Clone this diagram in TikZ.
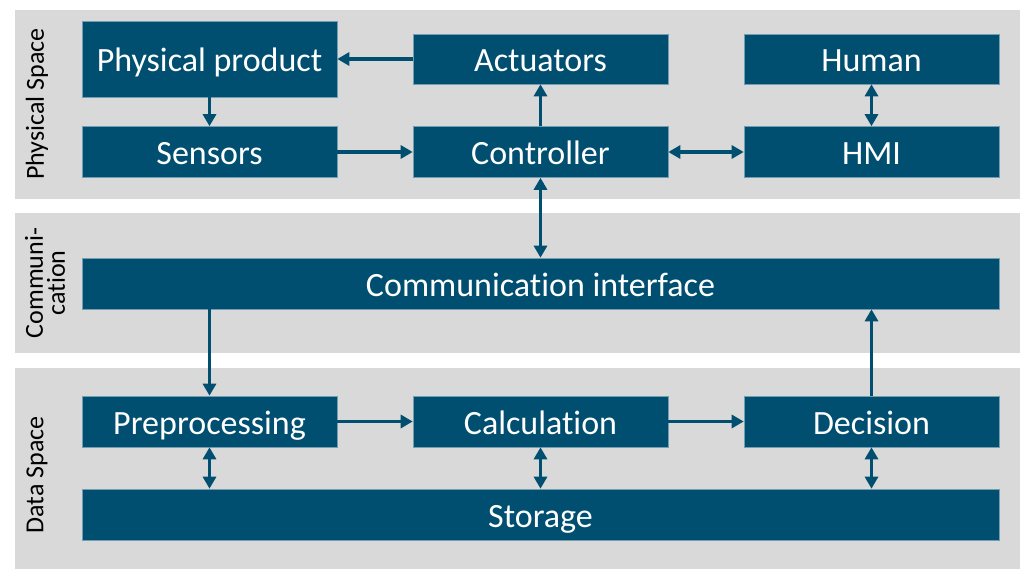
\documentclass[tikz,border=0pt]{standalone}
\usepackage{fontspec}
\setmainfont{Carlito}[Ligatures=NoCommon]
\usetikzlibrary{arrows.meta}
\definecolor{dblue}{HTML}{004F71}
\definecolor{lgray}{HTML}{D9D9D9}
\begin{document}
\begin{tikzpicture}[x=1pt,y=-1pt]
\tikzstyle{blk}=[rectangle,fill=dblue,draw=dblue!55!white,line width=0.6pt,text=white,minimum width=255pt,minimum height=#1,inner sep=0pt,text height=30pt,text depth=4pt,font=\fontsize{34}{40}\selectfont]
\tikzstyle{wide}=[blk=51pt,minimum width=917pt]
\tikzstyle{lane}=[rotate=90,align=center,font=\fontsize{26}{22}\selectfont]
\tikzstyle{link}=[line width=3.3pt,dblue,-{Triangle[length=12pt,width=13pt]}]
\tikzstyle{dlink}=[link,{Triangle[length=12pt,width=13pt]}-{Triangle[length=12pt,width=13pt]}]
\useasboundingbox (0,0) rectangle (1020,569);
% bands
\fill[lgray] (15,10) rectangle (1020,199);
\fill[lgray] (15,213) rectangle (1020,353);
\fill[lgray] (15,368) rectangle (1020,569);
\node[lane] (lphys) at (37,104) {Physical Space};
\node[lane] (lcomm) at (45,283) {Communi-\\cation};
\node[lane] (ldata) at (37,475) {Data Space};
% physical space
\node[blk=76pt] (prod) at (209.5,59) {Physical product};
\node[blk=50pt] (act) at (540.5,59) {Actuators};
\node[blk=50pt] (human) at (871.5,59) {Human};
\node[blk=51pt] (sens) at (209.5,152) {Sensors};
\node[blk=51pt] (ctrl) at (540.5,152) {Controller};
\node[blk=51pt] (hmi) at (871.5,152) {HMI};
% communication
\node[wide] (comm) at (540.5,283.5) {Communication interface};
% data space
\node[blk=51pt] (prep) at (209.5,421.5) {Preprocessing};
\node[blk=51pt] (calc) at (540.5,421.5) {Calculation};
\node[blk=51pt] (dec) at (871.5,421.5) {Decision};
\node[wide] (stor) at (540.5,514.5) {Storage};

\draw[link] (act) -- (prod);
\draw[link] (prod) -- (sens);
\draw[link] (sens) -- (ctrl);
\draw[link] (ctrl) -- (act);
\draw[dlink] (ctrl) -- (hmi);
\draw[dlink] (hmi) -- (human);
\draw[dlink] (ctrl) -- (comm);
\draw[link] (comm.south -| prep) -- (prep);
\draw[link] (prep) -- (calc);
\draw[link] (calc) -- (dec);
\draw[link] (dec) -- (comm.south -| dec);
\draw[dlink] (prep) -- (stor.north -| prep);
\draw[dlink] (calc) -- (stor);
\draw[dlink] (dec) -- (stor.north -| dec);
\end{tikzpicture}
\end{document}
